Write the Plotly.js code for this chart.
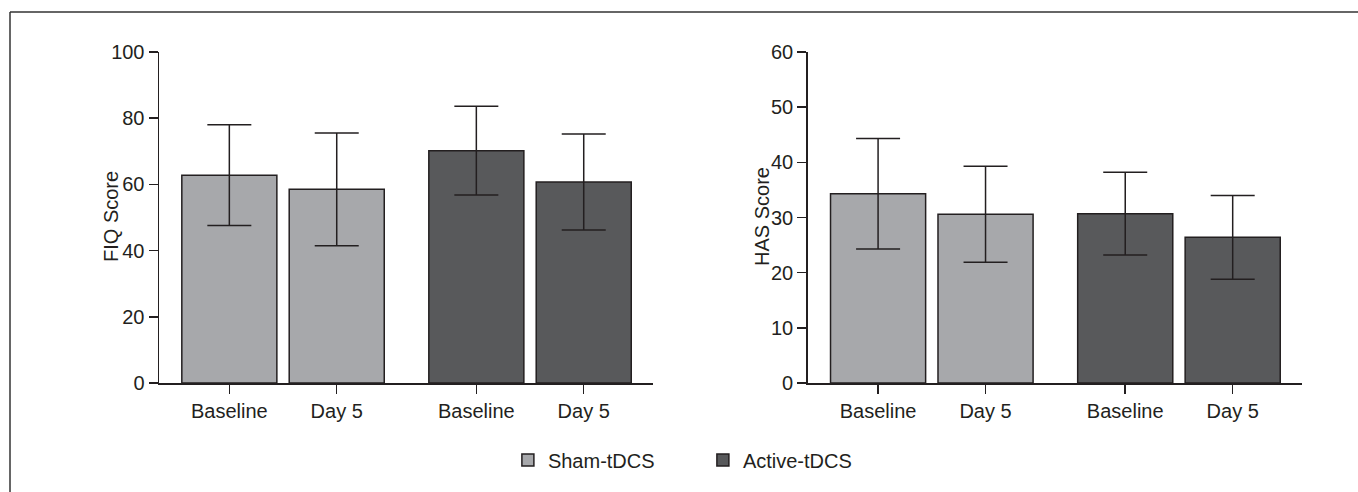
<!DOCTYPE html>
<html>
<head>
<meta charset="utf-8">
<script src="https://cdn.plot.ly/plotly-3.0.1.min.js"></script>
<style>
html,body{margin:0;padding:0;background:#fff;}
#chart{width:1358px;height:492px;}
</style>
</head>
<body>
<div id="chart"></div>
<script>
// ---- data ----
const tickLabels = ["Baseline", "Day 5", "Baseline", "Day 5"];
const groupNames = ["Sham-tDCS", "Active-tDCS"];
const yTitles = ["FIQ Score", "HAS Score"];

const fiqSham = [62.8, 58.5];
const fiqShamErr = [15.2, 17.0];
const fiqActive = [70.2, 60.7];
const fiqActiveErr = [13.4, 14.5];

const hasSham = [34.3, 30.6];
const hasShamErr = [10.0, 8.7];
const hasActive = [30.7, 26.4];
const hasActiveErr = [7.5, 7.6];

// ---- layout helpers ----
const shamPos = [1, 2];
const activePos = [3.3, 4.3];
const allPos = shamPos.concat(activePos);

const shamColor = "#a7a8ab";
const activeColor = "#58595b";
const ink = "#231f20";
const fontFam = "Liberation Sans, Arial, Helvetica, sans-serif";
const fs = 20;

function barTrace(x, y, err, name, color, xa, ya, show) {
  return {
    type: "bar", x: x, y: y, name: name,
    xaxis: xa, yaxis: ya, legendgroup: name, showlegend: show,
    width: 0.885,
    marker: {color: color, line: {color: ink, width: 1.5}},
    error_y: {type: "data", array: err, visible: true, color: ink, thickness: 1.5, width: 22},
    hoverinfo: "y"
  };
}

const data = [
  barTrace(shamPos, fiqSham, fiqShamErr, groupNames[0], shamColor, "x", "y", true),
  barTrace(activePos, fiqActive, fiqActiveErr, groupNames[1], activeColor, "x", "y", true),
  barTrace(shamPos, hasSham, hasShamErr, groupNames[0], shamColor, "x2", "y2", false),
  barTrace(activePos, hasActive, hasActiveErr, groupNames[1], activeColor, "x2", "y2", false)
];

const W = 1358, H = 492;
const yDom = [1 - 383 / H, 1 - 52 / H];

function xAxis(dom, anchor) {
  return {
    domain: dom, anchor: anchor, range: [0.345, 4.945],
    tickmode: "array", tickvals: allPos, ticktext: tickLabels,
    showline: true, linecolor: ink, linewidth: 1.5,
    ticks: "outside", ticklen: 9, tickwidth: 1.5, tickcolor: ink,
    showgrid: false, zeroline: false, fixedrange: true,
    tickfont: {family: fontFam, size: fs, color: ink}
  };
}
function yAxis(range, dtick, anchor) {
  return {
    domain: yDom, anchor: anchor, range: range, dtick: dtick,
    showline: true, linecolor: ink, linewidth: 1.5,
    ticks: "outside", ticklen: 9, tickwidth: 1.5, tickcolor: ink,
    showgrid: false, zeroline: false, fixedrange: true,
    tickfont: {family: fontFam, size: fs, color: ink}
  };
}

const layout = {
  width: W, height: H,
  margin: {l: 0, r: 0, t: 0, b: 0},
  paper_bgcolor: "#fff", plot_bgcolor: "rgba(0,0,0,0)",
  showlegend: true,
  bargap: 0,
  xaxis: xAxis([159 / W, 653 / W], "y"),
  yaxis: yAxis([0, 100], 20, "x"),
  xaxis2: xAxis([807.7 / W, 1302 / W], "y2"),
  yaxis2: yAxis([0, 60], 10, "x2"),
  legend: {
    orientation: "h", x: 0.374, xanchor: "left", y: 1 - 460 / H, yanchor: "middle",
    font: {family: fontFam, size: fs, color: ink}, traceorder: "normal",
    itemclick: false, itemdoubleclick: false, entrywidth: 150, entrywidthmode: "pixels"
  },
  annotations: [
    {text: yTitles[0], xref: "paper", yref: "paper", x: 111 / W, y: 1 - 217 / H,
     xanchor: "center", yanchor: "middle", textangle: -90, showarrow: false,
     font: {family: fontFam, size: fs, color: ink}},
    {text: yTitles[1], xref: "paper", yref: "paper", x: 762 / W, y: 1 - 217 / H,
     xanchor: "center", yanchor: "middle", textangle: -90, showarrow: false,
     font: {family: fontFam, size: fs, color: ink}}
  ],
  shapes: [
    {type: "line", xref: "paper", yref: "paper", x0: 10 / W, x1: 10 / W, y0: 0, y1: 1 - 12 / H, line: {color: "#333", width: 1.5}},
    {type: "line", xref: "paper", yref: "paper", x0: 10 / W, x1: 1, y0: 1 - 12 / H, y1: 1 - 12 / H, line: {color: "#333", width: 1.5}}
  ]
};

Plotly.newPlot("chart", data, layout, {displayModeBar: false, staticPlot: true});
</script>
</body>
</html>
